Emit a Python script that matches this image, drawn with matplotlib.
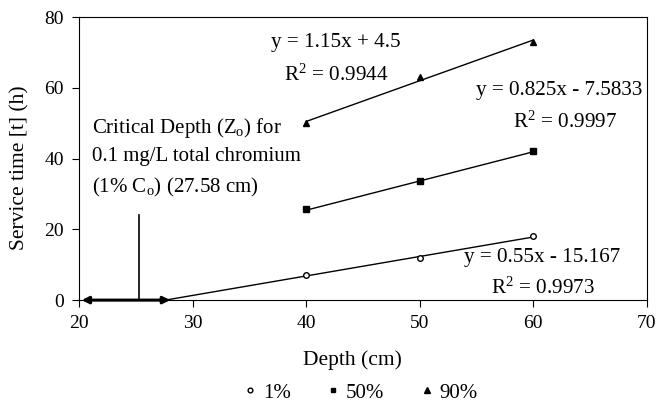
import numpy as np
import matplotlib.pyplot as plt

plt.rcParams['font.family'] = ['Liberation Serif', 'DejaVu Serif']
plt.rcParams['mathtext.fontset'] = 'custom'
plt.rcParams['mathtext.rm'] = 'Liberation Serif'
plt.rcParams['mathtext.it'] = 'Liberation Serif'

# data
depth = [40, 50, 60]
t_1 = [7, 12, 18]
t_50 = [25.7, 33.6, 42.2]
t_90 = [50, 63, 73]

fit_1 = (0.55, -15.167)
fit_50 = (0.825, -7.5833)
fit_90 = (1.15, 4.5)
z_crit = 27.58

fig = plt.figure(figsize=(6.56, 4.05), dpi=100)
ax = fig.add_axes([0.121, 0.259, 0.865, 0.699])

# trend lines
x1 = np.array([z_crit, 60])
ax.plot(x1, fit_1[0] * x1 + fit_1[1], color='black', lw=1)
x2 = np.array([40, 60])
ax.plot(x2, fit_50[0] * x2 + fit_50[1], color='black', lw=1)
ax.plot(x2, fit_90[0] * x2 + fit_90[1], color='black', lw=1)

# points
ax.plot(depth, t_1, 'o', ms=4, mfc='white', mec='black', mew=1, label='1%')
ax.plot(depth, t_50, 's', ms=4, color='black', label='50%')
ax.plot(depth, t_90, '^', ms=4.5, color='black', label='90%')

# critical depth arrow
ax.annotate('', xy=(20.2, 0), xytext=(28.0, 0),
            arrowprops=dict(arrowstyle='<|-|>', lw=2.2, color='black',
                            mutation_scale=10, shrinkA=0, shrinkB=0),
            annotation_clip=False)
ax.plot([25.25, 25.25], [0, 24], color='black', lw=1.2)

ax.text(21.1, 40.4, 'Critical Depth (Z$_{\\rm o}$) for\n0.1 mg/L total chromium\n(1% C$_{\\rm o}$) (27.58 cm)',
        fontsize=15, ha='left', va='center', linespacing=1.55)

fs = 15.2
ax.text(42.6, 72.9, 'y = 1.15x + 4.5', fontsize=fs, ha='center', va='center')
ax.text(42.6, 63.6, 'R$^2$ = 0.9944', fontsize=fs, ha='center', va='center')
ax.text(62.3, 59.3, 'y = 0.825x - 7.5833', fontsize=fs, ha='center', va='center')
ax.text(62.8, 50.3, 'R$^2$ = 0.9997', fontsize=fs, ha='center', va='center')
ax.text(60.8, 12.1, 'y = 0.55x - 15.167', fontsize=fs, ha='center', va='center')
ax.text(60.8, 3.4, 'R$^2$ = 0.9973', fontsize=fs, ha='center', va='center')

ax.set_xlim(20, 70)
ax.set_ylim(0, 80)
ax.set_xticks([20, 30, 40, 50, 60, 70])
ax.set_yticks([0, 20, 40, 60, 80])
ax.tick_params(direction='out', length=5, labelsize=14, pad=6)
ax.set_xlabel('Depth (cm)', fontsize=15.5)
ax.set_ylabel('Service time [t] (h)', fontsize=15.5)
ax.xaxis.set_label_coords(0.482, -0.178)
ax.yaxis.set_label_coords(-0.088, 0.466)

fig.legend(loc='center', bbox_to_anchor=(0.55, 0.03), ncol=3, frameon=False,
           fontsize=15, handletextpad=0.3, columnspacing=1.75, handlelength=0.6,
           markerscale=0.85, borderpad=0.1)

fig.savefig('out.png', dpi=100)
